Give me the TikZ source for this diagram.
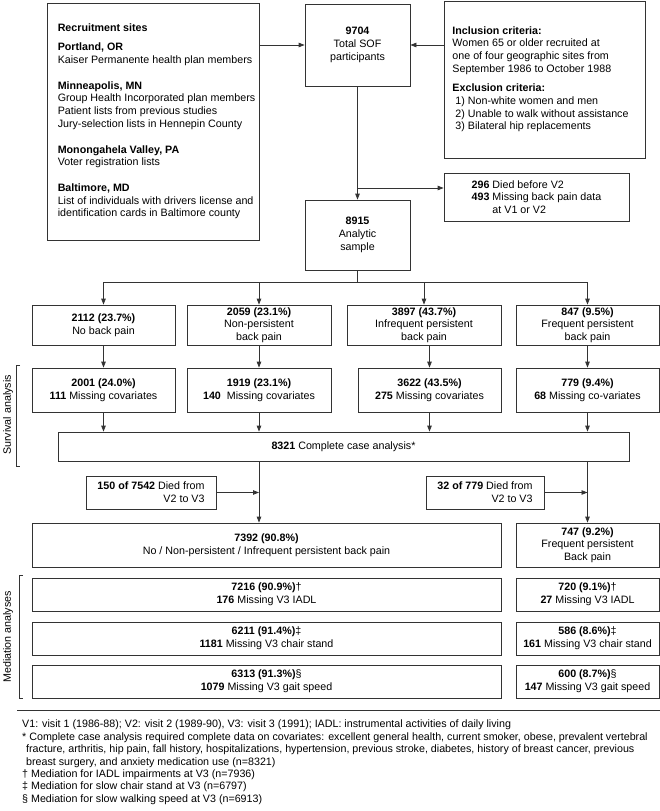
\documentclass[tikz,border=0pt]{standalone}
\usepackage{fontspec}
\setmainfont{Liberation Sans}
\usetikzlibrary{arrows.meta}
\tikzstyle{every node}=[font=\fontsize{10.7}{12.7}\selectfont]
\tikzstyle{box}=[draw=black!80,line width=0.8pt,inner sep=0pt,align=center]
\tikzstyle{link}=[draw=black!80,line width=0.8pt]
\tikzstyle{arr}=[link,-{Triangle[length=6pt,width=4.5pt]}]

\begin{document}
\begin{tikzpicture}[x=1pt,y=-1pt]
  \useasboundingbox (0,0) rectangle (660,811);
  \node[box,minimum width=212,minimum height=237] (sites) at (153,121.5)
    {\begin{tabular}{@{\hspace{7pt}}l@{}}
     \textbf{Recruitment sites}\\[7pt]
     \textbf{Portland, OR}\\ Kaiser Permanente health plan members\\[13pt]
     \textbf{Minneapolis, MN}\\ Group Health Incorporated plan members\\
     Patient lists from previous studies\\ Jury-selection lists in Hennepin County\\[13pt]
     \textbf{Monongahela Valley, PA}\\ Voter registration lists\\[13pt]
     \textbf{Baltimore, MD}\\ List of individuals with drivers license and\\
     identification cards in Baltimore county
     \end{tabular}};
  \node[box,minimum width=105,minimum height=82] (total) at (357.5,45)
    {\textbf{9704}\\Total SOF\\participants};
  \node[box,minimum width=201,minimum height=157] (incl) at (544.5,79.5)
    {\begin{tabular}{@{}l@{\hspace{8pt}}}
     \textbf{Inclusion criteria:}\\ Women 65 or older recruited at\\
     one of four geographic sites from\\ September 1986 to October 1988\\[7pt]
     \textbf{Exclusion criteria:}\\ \hspace*{3pt}1) Non-white women and men\\
     \hspace*{3pt}2) Unable to walk without assistance\\ \hspace*{3pt}3) Bilateral hip replacements
     \end{tabular}};
  \node[box,minimum width=185,minimum height=48,align=left] (excl) at (536.5,197)
    {\textbf{296} Died before V2\\ \textbf{493} Missing back pain data\\ \phantom{\textbf{493} }at V1 or V2};
  \node[box,minimum width=105,minimum height=70] (sample) at (357.5,235)
    {\textbf{8915}\\Analytic\\sample};

  \node[box,minimum width=143,minimum height=40] (nopain) at (103.5,325)
    {\textbf{2112 (23.7\%)}\\No back pain};
  \node[box,minimum width=144,minimum height=40] (nonpers) at (259,325)
    {\textbf{2059 (23.1\%)}\\Non-persistent\\back pain};
  \node[box,minimum width=154,minimum height=40] (infreq) at (424,325)
    {\textbf{3897 (43.7\%)}\\Infrequent persistent\\back pain};
  \node[box,minimum width=143,minimum height=40] (freq) at (587.5,325)
    {\textbf{847 (9.5\%)}\\Frequent persistent\\back pain};

  \node[box,minimum width=143,minimum height=44] (cnopain) at (103.5,390)
    {\textbf{2001 (24.0\%)}\\\textbf{111} Missing covariates};
  \node[box,minimum width=144,minimum height=44] (cnonpers) at (259,390)
    {\textbf{1919 (23.1\%)}\\\textbf{140}\ \ Missing covariates};
  \node[box,minimum width=143,minimum height=44] (cinfreq) at (429.5,390)
    {\textbf{3622 (43.5\%)}\\\textbf{275} Missing covariates};
  \node[box,minimum width=143,minimum height=44] (cfreq) at (587.5,390)
    {\textbf{779 (9.4\%)}\\\textbf{68} Missing co-variates};

  \node[box,minimum width=571,minimum height=29] (cca) at (343.5,446.5)
    {\textbf{8321} Complete case analysis*};
  \node[box,minimum width=130,minimum height=33,align=right] (died1) at (151,492.5)
    {\textbf{150 of 7542} Died from\\V2 to V3};
  \node[box,minimum width=118,minimum height=33,align=right] (died2) at (485,492.5)
    {\textbf{32 of 779} Died from\\V2 to V3};

  \node[box,minimum width=469,minimum height=44] (vthreea) at (266.5,545)
    {\textbf{7392 (90.8\%)}\\No / Non-persistent / Infrequent persistent back pain};
  \node[box,minimum width=143,minimum height=44] (vthreeb) at (587.5,545)
    {\textbf{747 (9.2\%)}\\Frequent persistent\\Back pain};

  \node[box,minimum width=469,minimum height=33] (iadla) at (266.5,594.5)
    {\textbf{7216 (90.9\%)}\textdagger\\\textbf{176} Missing V3 IADL};
  \node[box,minimum width=143,minimum height=33] (iadlb) at (587.5,594.5)
    {\textbf{720 (9.1\%)}\textdagger\\\textbf{27} Missing V3 IADL};
  \node[box,minimum width=469,minimum height=33] (chaira) at (266.5,638.5)
    {\textbf{6211 (91.4\%)}\textdaggerdbl\\\textbf{1181} Missing V3 chair stand};
  \node[box,minimum width=143,minimum height=33] (chairb) at (587.5,638.5)
    {\textbf{586 (8.6\%)}\textdaggerdbl\\\textbf{161} Missing V3 chair stand};
  \node[box,minimum width=469,minimum height=33] (gaita) at (266.5,681.5)
    {\textbf{6313 (91.3\%)}\S\\\textbf{1079} Missing V3 gait speed};
  \node[box,minimum width=143,minimum height=33] (gaitb) at (587.5,681.5)
    {\textbf{600 (8.7\%)}\S\\\textbf{147} Missing V3 gait speed};

  \draw[arr] (sites.east |- total.west) -- (total.west);
  \draw[arr] (incl.west |- total.east) -- (total.east);
  \draw[arr] (total) -- (sample);
  \coordinate (split) at (357.5,188);
  \draw[arr] (split) -- (split -| excl.west);
  \coordinate (fork) at (357.5,282);
  \draw[link] (sample.south) -- (fork);
  \draw[link] (fork -| nopain.north) -- (fork -| freq.north);
  \foreach \n in {nopain,nonpers,infreq,freq}{
    \draw[arr] (fork -| \n.north) -- (\n.north);
    \draw[arr] (c\n.north |- \n.south) -- (c\n.north);
    \draw[arr] (c\n.south) -- (c\n.south |- cca.north);
  }
  \draw[arr] (cca.south -| nonpers.south) -- (vthreea.north -| nonpers.south);
  \draw[arr] (cca.south -| vthreeb.north) -- (vthreeb.north);
  \draw[arr] (died1.east) -- (died1.east -| nonpers.south);
  \draw[arr] (died2.east) -- (died2.east -| vthreeb.north);

  \draw[link] (20,365) -- (16,365) -- (16,466) -- (20,466);
  \node[rotate=90] (survival) at (8,415) {Survival analysis};
  \draw[link] (23,575) -- (19,575) -- (19,698) -- (23,698);
  \node[rotate=90] (mediation) at (8,637) {Mediation analyses};

  \draw[link] (17,710) -- (660,710);
  \node[anchor=north west,align=left,inner sep=0pt,font=\fontsize{10.7}{12.35}\selectfont] (notes) at (22,720)
    {V1: visit 1 (1986-88); V2: visit 2 (1989-90), V3: visit 3 (1991); IADL: instrumental activities of daily living\\
     * Complete case analysis required complete data on covariates: excellent general health, current smoker, obese, prevalent vertebral\\
     \hspace*{4pt}fracture, arthritis, hip pain, fall history, hospitalizations, hypertension, previous stroke, diabetes, history of breast cancer, previous\\
     \hspace*{4pt}breast surgery, and anxiety medication use (n=8321)\\
     \textdagger\ Mediation for IADL impairments at V3 (n=7936)\\
     \textdaggerdbl\ Mediation for slow chair stand at V3 (n=6797)\\
     \S\ Mediation for slow walking speed at V3 (n=6913)};
\end{tikzpicture}
\end{document}
